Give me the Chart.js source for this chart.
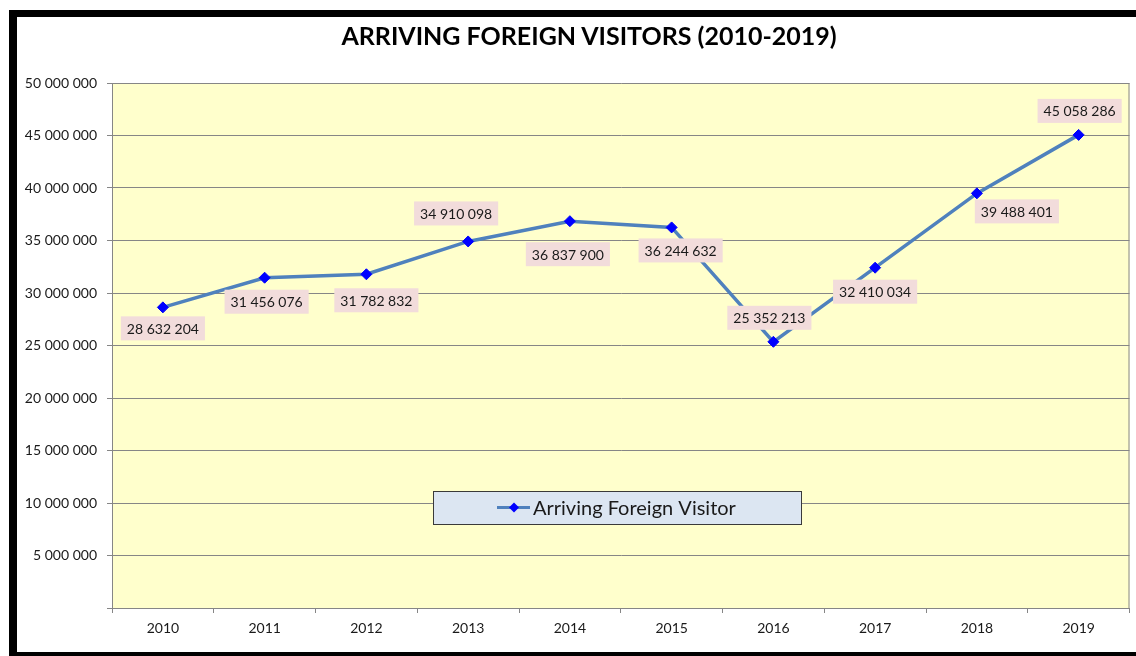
<!DOCTYPE html>
<html>
<head>
<meta charset="utf-8">
<script src="https://cdn.jsdelivr.net/npm/chart.js@4/dist/chart.umd.min.js"></script>
<style>
  html, body { margin: 0; padding: 0; background: #fff; overflow: hidden; }
  #frame {
    position: absolute; left: 9px; top: 10px;
    width: 1200px; height: 635px;
    border: 7px solid #000; border-left-width: 8px;
    background: #fff;
  }
  #wrap { position: absolute; left: 0; top: 0; width: 1136px; height: 656px; }
  #title {
    position: absolute; left: 89px; width: 1000px; top: 20px;
    text-align: center; line-height: 30px;
    font: bold 25px Lato, "Open Sans", sans-serif; color: #000;
  }
</style>
</head>
<body>
<div id="frame"></div>
<div id="wrap"><canvas id="visitorsChart"></canvas></div>
<div id="title"></div>
<script>
const years = ['2010', '2011', '2012', '2013', '2014', '2015', '2016', '2017', '2018', '2019'];
const visitors = [28632204, 31456076, 31782832, 34910098, 36837900, 36244632, 25352213, 32410034, 39488401, 45058286];
const seriesName = 'Arriving Foreign Visitor';
const chartTitle = 'ARRIVING FOREIGN VISITORS (2010-2019)';
const yMin = 0, yMax = 50000000, yStep = 5000000;

// where each value label sits relative to its point (px)
const labelOffsets = [
    [0, 21], [2, 24], [10, 26], [-12, -28], [-2, 33],
    [9, 23], [-4, -24], [0, 24], [40, 18], [1, -24]
];

const FONT = 'Lato, "Open Sans", sans-serif';

function spaced(v) {
    return String(v).replace(/\B(?=(\d{3})+(?!\d))/g, ' ');
}

// fond jaune + bord droit du cadre de tracé
const plotBackground = {
    id: 'plotBackground',
    beforeDraw(chart) {
        const { ctx, chartArea: a } = chart;
        ctx.save();
        ctx.fillStyle = '#FFFFCC';
        ctx.fillRect(a.left, a.top, a.right - a.left, a.bottom - a.top);
        ctx.restore();
    },
    afterDraw(chart) {
        const { ctx, chartArea: a } = chart;
        ctx.save();
        ctx.strokeStyle = '#868686';
        ctx.lineWidth = 1;
        ctx.beginPath();
        ctx.moveTo(a.right - 0.5, a.top);
        ctx.lineTo(a.right - 0.5, a.bottom);
        ctx.stroke();
        ctx.restore();
    }
};

// étiquettes de valeurs sur fond rose
const valueLabels = {
    id: 'valueLabels',
    afterDatasetsDraw(chart) {
        const { ctx } = chart;
        const meta = chart.getDatasetMeta(0);
        ctx.save();
        ctx.font = '14px ' + FONT;
        ctx.textAlign = 'center';
        ctx.textBaseline = 'middle';
        meta.data.forEach((pt, i) => {
            const txt = spaced(chart.data.datasets[0].data[i]);
            const [dx, dy] = labelOffsets[i];
            const cx = pt.x + dx, cy = pt.y + dy;
            const w = ctx.measureText(txt).width + 12, h = 24;
            ctx.fillStyle = '#F2DCDB';
            ctx.fillRect(cx - w / 2, cy - h / 2, w, h);
            ctx.fillStyle = '#1a1a1a';
            ctx.fillText(txt, cx, cy + 1);
        });
        ctx.restore();
    }
};

// légende dans la zone de tracé
const boxLegend = {
    id: 'boxLegend',
    afterDatasetsDraw(chart) {
        const { ctx, chartArea: a } = chart;
        const ds = chart.data.datasets[0];
        const x = a.left + 321, y = a.top + 408, w = 368, h = 33;
        ctx.save();
        ctx.fillStyle = '#DCE6F2';
        ctx.fillRect(x, y, w, h);
        ctx.strokeStyle = '#3a3a3a';
        ctx.lineWidth = 1;
        ctx.strokeRect(x + 0.5, y + 0.5, w, h);
        const my = y + h / 2;
        ctx.strokeStyle = ds.borderColor;
        ctx.lineWidth = 3;
        ctx.beginPath();
        ctx.moveTo(x + 64, my);
        ctx.lineTo(x + 97, my);
        ctx.stroke();
        ctx.fillStyle = ds.pointBackgroundColor;
        ctx.beginPath();
        ctx.moveTo(x + 81, my - 5);
        ctx.lineTo(x + 86, my);
        ctx.lineTo(x + 81, my + 5);
        ctx.lineTo(x + 76, my);
        ctx.closePath();
        ctx.fill();
        ctx.fillStyle = '#1a1a1a';
        ctx.font = '20px ' + FONT;
        ctx.textBaseline = 'middle';
        ctx.fillText(ds.label, x + 100, my + 1);
        ctx.restore();
    }
};

document.addEventListener('DOMContentLoaded', () => {
    document.getElementById('title').textContent = chartTitle;

    const ctx = document.getElementById('visitorsChart').getContext('2d');
    new Chart(ctx, {
        type: 'line',
        data: {
            labels: years,
            datasets: [{
                label: seriesName,
                data: visitors,
                borderColor: '#4F81BD',
                borderWidth: 3.5,
                pointStyle: 'rectRot',
                pointRadius: 5.5,
                pointBackgroundColor: '#0000FF',
                pointBorderColor: '#0000FF',
                pointBorderWidth: 1,
                tension: 0,
                fill: false
            }]
        },
        options: {
            responsive: true,
            maintainAspectRatio: false,
            animation: false,
            // le titre est dans un div au-dessus, on réserve sa place ici
            layout: { padding: { left: 17, top: 83, right: 5, bottom: 0 } },
            plugins: {
                legend: { display: false },
                tooltip: { enabled: false }
            },
            scales: {
                x: {
                    offset: true,
                    grid: { offset: true, drawOnChartArea: false, color: '#868686', tickLength: 5 },
                    border: { color: '#868686' },
                    ticks: { color: '#1a1a1a', padding: 7, font: { family: FONT, size: 14 } },
                    afterFit(s) { s.height = 48; }
                },
                y: {
                    min: yMin,
                    max: yMax,
                    grid: { color: '#868686', tickLength: 5 },
                    border: { color: '#868686' },
                    ticks: {
                        stepSize: yStep,
                        color: '#1a1a1a',
                        padding: 10,
                        font: { family: FONT, size: 14 },
                        callback: v => v === 0 ? '' : spaced(v)
                    },
                    afterFit(s) { s.width = 95; }
                }
            }
        },
        plugins: [plotBackground, valueLabels, boxLegend]
    });
});
</script>
</body>
</html>
